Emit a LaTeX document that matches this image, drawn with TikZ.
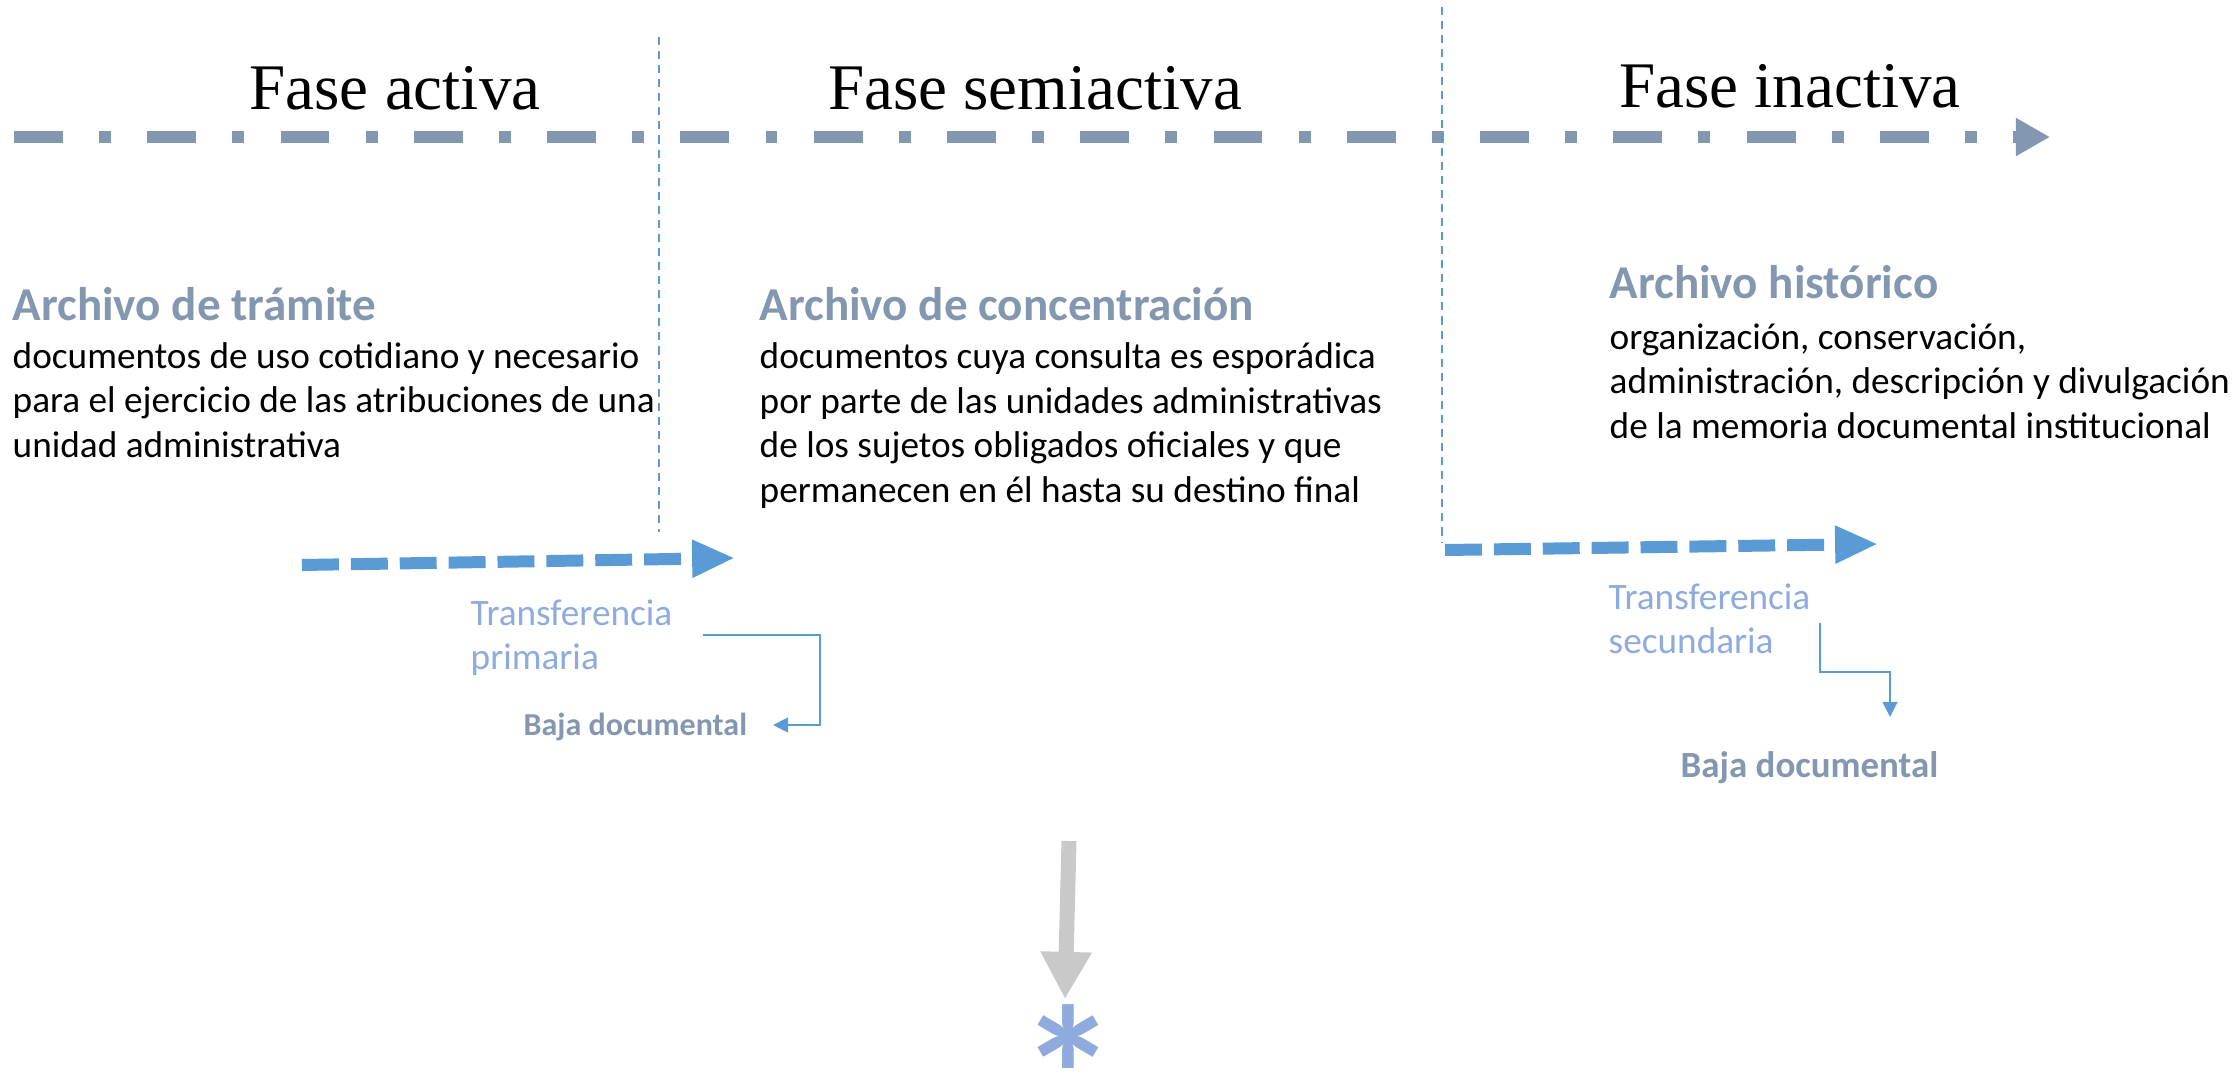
\documentclass[tikz,border=0pt]{standalone}
\usepackage{fontspec}
\setmainfont{Carlito}
\newfontfamily\timesfont{Liberation Serif}
\usetikzlibrary{arrows.meta}
\definecolor{greyblue}{RGB}{132,151,176}
\definecolor{blue1}{RGB}{91,155,213}
\definecolor{blue2}{RGB}{143,170,220}
\definecolor{grey1}{RGB}{201,201,201}
\tikzset{
  fase/.style={font=\timesfont\fontsize{18.5}{22}\selectfont, inner sep=0pt, anchor=base},
  archivo/.style={font=\bfseries\fontsize{13.4}{16}\selectfont, text=greyblue, inner sep=0pt, anchor=base west},
  descr/.style={font=\fontsize{10.6}{12.65}\selectfont, align=left, inner sep=0pt, anchor=base west},
  transf/.style={font=\fontsize{10.6}{12.5}\selectfont, text=blue2, align=left, inner sep=0pt, anchor=base west},
  baja/.style={text=greyblue, inner sep=0pt, anchor=base west},
  divider/.style={blue1, line width=0.57pt, dash pattern=on 2.3pt off 1.7pt},
  flow/.style={blue1, line width=3.41pt, dash pattern=on 10.5pt off 3.4pt, -{Triangle[length=12.2pt,width=10pt]}},
  elbow/.style={blue1, line width=0.6pt, -{Triangle[length=4.3pt,width=4.2pt]}},
}

\begin{document}
\begin{tikzpicture}[x=0.01cm,y=-0.01cm]
  \useasboundingbox (0,0) rectangle (2234,1073);

  % time line
  \coordinate (T0) at (14,137);
  \coordinate (T1) at (2050,137);
  \draw [greyblue, line width=3.41pt, dash pattern=on 13.9pt off 10.3pt on 3.4pt off 10.3pt,
         -{Triangle[length=9.7pt,width=10.2pt]}] (T0) -- (T1);

  \node [fase] (activa) at (395,110) {Fase activa};
  \node [fase] (semiactiva) at (1035,110) {Fase semiactiva};
  \node [fase] (inactiva) at (1790,107) {Fase inactiva};

  % dividers
  \coordinate (A0) at (659,37);
  \coordinate (A1) at (659,532);
  \coordinate (B0) at (1442,7);
  \coordinate (B1) at (1442,542);
  \draw [divider] (A0) -- (A1);
  \draw [divider] (B0) -- (B1);

  \node [archivo] (tramite) at (12,320) {Archivo de trámite};
  \node [archivo] (concentracion) at (759,320) {Archivo de concentración};
  \node [archivo] (historico) at (1609,298) {Archivo histórico};

  % base = last line
  \node [descr] (tramitetxt) at (12,457) {documentos de uso cotidiano y necesario\\para el ejercicio de las atribuciones de una\\unidad administrativa};
  \node [descr] (concentraciontxt) at (759,502) {documentos cuya consulta es esporádica\\por parte de las unidades administrativas\\de los sujetos obligados oficiales y que\\permanecen en él hasta su destino final};
  \node [descr] (historicotxt) at (1609,438) {organización, conservación,\\administración, descripción y divulgación\\de la memoria documental institucional};

  % transferencias
  \coordinate (P0) at (302,565);
  \coordinate (P1) at (735,558);
  \draw [flow] (P0) -- (P1);
  \coordinate (S0) at (1445,550);
  \coordinate (S1) at (1878,544);
  \draw [flow] (S0) -- (S1);

  \node [transf] (primaria) at (470,669) {Transferencia\\primaria};
  \node [transf] (secundaria) at (1608,653) {Transferencia\\secundaria};

  \node [baja, font=\bfseries\fontsize{9.1}{11}\selectfont] (baja1) at (523,735) {Baja documental};
  \node [baja, font=\bfseries\fontsize{10.5}{12}\selectfont] (baja2) at (1680,777) {Baja documental};

  \coordinate (E0) at (703,635);
  \coordinate (E1) at (820,725);
  \coordinate (E2) at (773,725);
  \draw [elbow] (E0) -| (E1) -- (E2);
  \coordinate (F0) at (1820,623);
  \coordinate (F1) at (1820,672);
  \coordinate (F2) at (1890,717);
  \draw [elbow] (F0) -- (F1) -| (F2);

  % destino final
  \coordinate (G0) at (1069,841);
  \coordinate (G1) at (1065,999);
  \draw [grey1, line width=4.27pt, -{Triangle[length=13.4pt,width=13.7pt]}] (G0) -- (G1);
  \node [text=blue2, font=\bfseries\fontsize{56}{56}\selectfont, inner sep=0pt, anchor=base] (star) at (1069,1145) {*};
\end{tikzpicture}
\end{document}
